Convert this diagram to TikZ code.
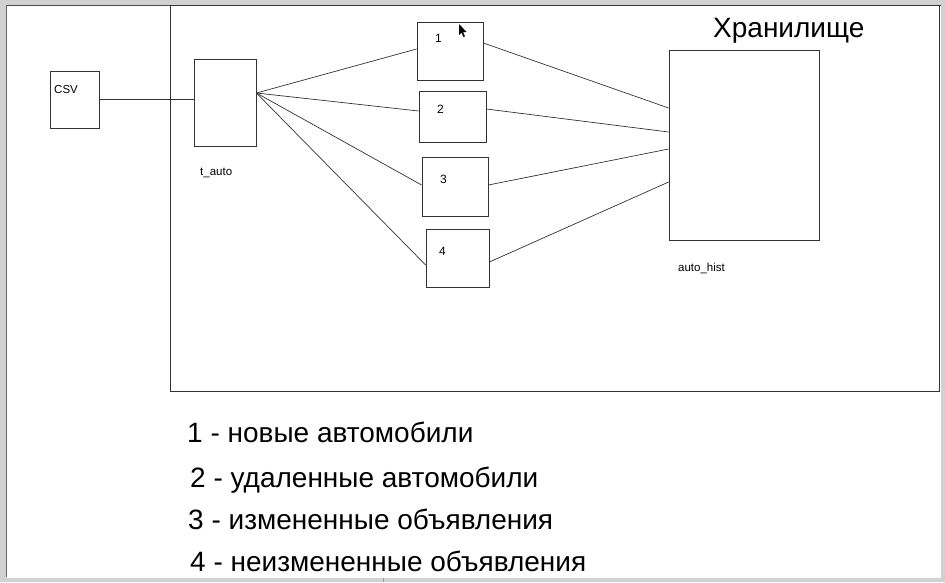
\documentclass[tikz,border=0pt]{standalone}
\usepackage{fontspec}
\setmainfont{Liberation Sans}
\begin{document}
\begin{tikzpicture}[x=1pt,y=-1pt,
  box/.style={draw=black!80,line width=0.8pt,rectangle,inner sep=0pt,fill=white},
  conn/.style={draw=black!80,line width=0.7pt},
  small/.style={inner sep=0pt,anchor=base west,font=\fontsize{11.5}{13}\selectfont},
  digit/.style={inner sep=0pt,anchor=base west,font=\fontsize{12}{14}\selectfont},
  legend/.style={inner sep=0pt,anchor=base west,font=\fontsize{28}{34}\selectfont},
  band/.style={fill=black!18,draw=none}]
\useasboundingbox (0,0) rectangle (945,582);
\fill[white] (0,0) rectangle (945,582);
% window chrome
\fill[band] (0,0) rectangle (945,5);
\draw[black!70,line width=1pt] (0,5.5) -- (945,5.5);
\fill[band] (0,0) rectangle (7,582);
\draw[black!60,line width=0.8pt] (6.5,5) -- (6.5,577);
\fill[band] (941,0) rectangle (945,582);
\fill[band] (0,578) rectangle (945,582);
\draw[black!40,line width=0.8pt] (383,578) -- (383,582);
% frame
\draw[black!80,line width=0.8pt] (170,5.5) rectangle (939,391);
% boxes
\node[box,minimum width=49,minimum height=57] (csv) at (74.5,99.5) {};
\node[box,minimum width=62,minimum height=87] (tauto) at (225,102.5) {};
\node[box,minimum width=66,minimum height=58] (b1) at (450,51) {};
\node[box,minimum width=67,minimum height=51] (b2) at (452.5,116.5) {};
\node[box,minimum width=66,minimum height=59] (b3) at (455,186.5) {};
\node[box,minimum width=63,minimum height=58] (b4) at (457.5,258) {};
\node[box,minimum width=150,minimum height=190] (hist) at (744,145) {};
% labels
\node[small] (lcsv) at (54,93) {CSV};
\node[small] (ltauto) at (200,175) {t\_auto};
\node[small] (lhist) at (678,271) {auto\_hist};
\node[digit] (l1) at (435,42) {1};
\node[digit] (l2) at (437,113) {2};
\node[digit] (l3) at (440,183) {3};
\node[digit] (l4) at (439,255) {4};
\node[legend] (title) at (713,37) {Хранилище};
% connectors
\draw[conn] ([yshift=0.5]csv.east) -- ([yshift=3.5]tauto.west);
\draw[conn] ([yshift=9.5]tauto.east) -- ([yshift=2]b1.west);
\draw[conn] ([yshift=9.5]tauto.east) -- ([yshift=5.5]b2.west);
\draw[conn] ([yshift=9.5]tauto.east) -- ([yshift=1.5]b3.west);
\draw[conn] ([yshift=9.5]tauto.east) -- ([yshift=-7]b4.west);
\draw[conn] ([yshift=8]b1.east) -- ([yshift=37]hist.west);
\draw[conn] ([yshift=7.5]b2.east) -- ([yshift=13]hist.west);
\draw[conn] ([yshift=1.5]b3.east) -- ([yshift=-4]hist.west);
\draw[conn] ([yshift=-4]b4.east) -- ([yshift=-37]hist.west);
% cursor
\fill[black] (459,24) -- (459,35) -- (461.5,32.5) -- (463.5,37) -- (465,36.3) -- (463,32) -- (466.5,32) -- cycle;
% legend
\node[legend] (g1) at (187,442) {1 - новые автомобили};
\node[legend] (g2) at (190,487) {2 - удаленные автомобили};
\node[legend] (g3) at (188,529) {3 - измененные объявления};
\node[legend] (g4) at (190,571) {4 - неизмененные объявления};
\end{tikzpicture}
\end{document}
